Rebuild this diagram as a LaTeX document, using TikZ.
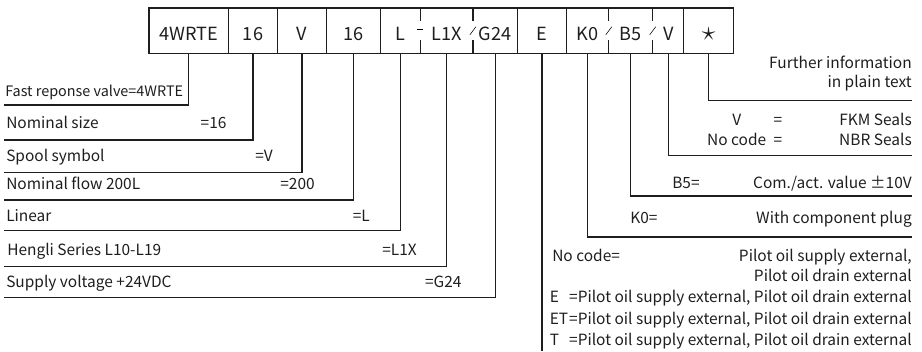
\documentclass[tikz,border=0pt]{standalone}
\usepackage{fontspec}
\setmainfont{Noto Sans CJK SC}
\usepackage{tikz}
\usetikzlibrary{positioning, calc}
\definecolor{mydark}{RGB}{30,30,30}
\tikzset{
  cell/.style={minimum height=33.75pt, inner sep=0pt, text=mydark,
    text height=13.8pt, text depth=0pt,
    font=\fontsize{13.6}{16}\selectfont},
  frame/.style={line width=0.9pt, color=mydark},
  lead/.style={line width=0.9pt, color=mydark},
  lbl/.style={inner sep=0pt, text=mydark, font=\fontsize{11.6}{14}\selectfont},
  slbl/.style={inner sep=0pt, text=mydark, font=\fontsize{10.8}{13}\selectfont}
}

\begin{document}
\begin{tikzpicture}[x=0.75pt, y=-0.75pt]
  \useasboundingbox (0,0) rectangle (922,351);

  % Code box
  \node[cell, minimum width=59.25pt] (c1) at (188.8,30.8) {4WRTE};
  \node[cell, minimum width=36.3pt, right=0pt of c1] (c2) {16};
  \node[cell, minimum width=36.2pt, right=0pt of c2] (c3) {V};
  \node[cell, minimum width=40pt, right=0pt of c3] (c4) {16};
  \node[cell, minimum width=29.55pt, right=0pt of c4] (c5) {L};
  \node[cell, minimum width=39.2pt, right=0pt of c5] (c6) {L1X};
  \node[cell, minimum width=33pt, right=0pt of c6] (c7) {G24};
  \node[cell, minimum width=36.5pt, right=0pt of c7] (c8) {E};
  \node[cell, minimum width=31.2pt, right=0pt of c8] (c9) {K0};
  \node[cell, minimum width=32.55pt, right=0pt of c9] (c10) {B5};
  \node[cell, minimum width=22.95pt, right=0pt of c10] (c11) {V};
  \node[cell, minimum width=36.75pt, right=0pt of c11] (c12) {\fontsize{22}{22}\selectfont$\star$};
  \draw[frame] (c1.north west) rectangle (c12.south east);
  \foreach \c in {c1,c2,c3,c4,c7,c8,c11}
    \draw[frame] (\c.north east) -- (\c.south east);
  \foreach \c in {c5,c6,c9,c10} {
    \draw[frame] (\c.north east) -- ++(0,13);
    \draw[frame] (\c.south east) -- ++(0,-14);
  }
  \draw[thin] ($(c5.east)+(-3,-1.5)$) -- ++(6,0);
  \foreach \c in {c6,c9,c10}
    \draw[thin] ($(\c.east)+(-3,4)$) -- ++(6,-8);

  % Left legend
  \coordinate (l1) at (4,105);
  \coordinate (l2) at (4,140);
  \coordinate (l3) at (4,172.7);
  \coordinate (l4) at (4,200);
  \coordinate (l5) at (4,230.7);
  \coordinate (l6) at (4,266.7);
  \coordinate (l7) at (4,297.3);
  \node[slbl, anchor=base west] (n1) at (5,96) {Fast reponse valve=4WRTE};
  \node[lbl, anchor=base west] (n2) at (6,128.5) {Nominal size};
  \node[lbl, anchor=base east] (v2) at (226.7,128.5) {=16};
  \node[lbl, anchor=base west] (n3) at (6,161.5) {Spool symbol};
  \node[lbl, anchor=base east] (v3) at (273,161.5) {=V};
  \node[lbl, anchor=base west] (n4) at (6,189.5) {Nominal flow 200L};
  \node[lbl, anchor=base east] (v4) at (315,189.5) {=200};
  \node[lbl, anchor=base west] (n5) at (6,221.5) {Linear};
  \node[lbl, anchor=base east] (v5) at (370,221.5) {=L};
  \node[lbl, anchor=base west] (n6) at (7,255) {Hengli Series L10-L19};
  \node[lbl, anchor=base east] (v6) at (417,255) {=L1X};
  \node[lbl, anchor=base west] (n7) at (6,287.5) {Supply voltage +24VDC};
  \node[lbl, anchor=base east] (v7) at (461.7,287.5) {=G24};
  \foreach \i in {1,...,7}
    \draw[lead] (c\i.south) |- (l\i);

  % Right legend
  \coordinate (r12) at (912,100.7);
  \coordinate (r11) at (912,155.7);
  \coordinate (r10) at (912,196);
  \coordinate (r9) at (912,237);
  \coordinate (bot) at (0,351);
  \node[lbl, anchor=base east] (t1a) at (912,68) {Further information};
  \node[lbl, anchor=base east] (t1b) at (912,87.5) {in plain text};
  \node[lbl, anchor=base] (k2a) at (736.7,125) {V};
  \node[lbl, anchor=base] (e2a) at (778,125) {=};
  \node[lbl, anchor=base east] (t2a) at (912,125) {FKM Seals};
  \node[lbl, anchor=base] (k2b) at (736.7,145) {No code};
  \node[lbl, anchor=base] (e2b) at (778,145) {=};
  \node[lbl, anchor=base east] (t2b) at (912,145) {NBR Seals};
  \node[lbl, anchor=base west] (k3) at (672,188.3) {B5=};
  \node[lbl, anchor=base east] (t3) at (912,188.3) {Com./act. value ±10V};
  \node[lbl, anchor=base west] (k4) at (630,223.3) {K0=};
  \node[lbl, anchor=base east] (t4) at (912,223.3) {With component plug};
  \node[lbl, anchor=base west] (k5) at (552,261.7) {No code=};
  \node[lbl, anchor=base east] (t5a) at (912,261.7) {Pilot oil supply external,};
  \node[lbl, anchor=base east] (t5b) at (912,281.7) {Pilot oil drain external};
  \node[lbl, anchor=base west] (k6) at (549.5,302.7) {E};
  \node[lbl, anchor=base east] (t6) at (912,302.7) {=Pilot oil supply external, Pilot oil drain external};
  \node[lbl, anchor=base west] (k7) at (549.5,324) {ET};
  \node[lbl, anchor=base east] (t7) at (912,324) {=Pilot oil supply external, Pilot oil drain external};
  \node[lbl, anchor=base west] (k8) at (549.5,345.7) {T};
  \node[lbl, anchor=base east] (t8) at (912,345.7) {=Pilot oil supply external, Pilot oil drain external};
  \foreach \i in {9,...,12}
    \draw[lead] (c\i.south) |- (r\i);
  \draw[lead] (c8.south) -- (c8.south |- bot);
\end{tikzpicture}
\end{document}
